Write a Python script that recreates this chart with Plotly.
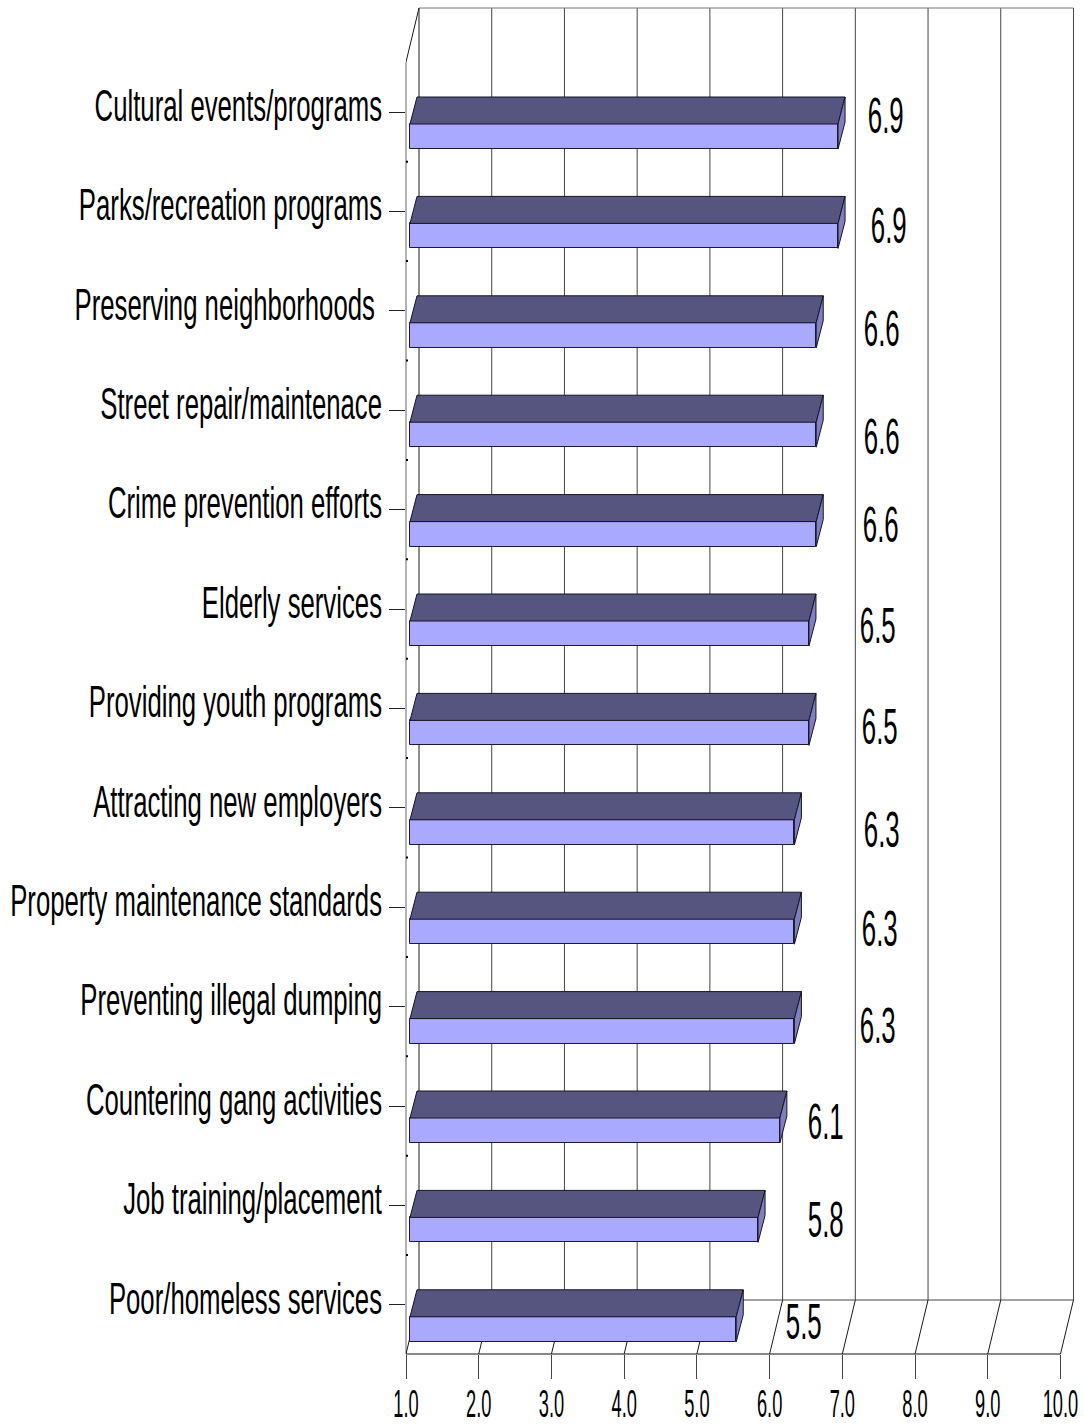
import plotly.graph_objects as go

# Survey items, top to bottom, with their mean ratings
categories = [
    "Cultural events/programs",
    "Parks/recreation programs",
    "Preserving neighborhoods\u00a0",
    "Street repair/maintenace",
    "Crime prevention efforts",
    "Elderly services",
    "Providing youth programs",
    "Attracting new employers",
    "Property maintenance standards",
    "Preventing illegal dumping",
    "Countering gang activities",
    "Job training/placement",
    "Poor/homeless services",
]
ratings = [6.9, 6.9, 6.6, 6.6, 6.6, 6.5, 6.5, 6.3, 6.3, 6.3, 6.1, 5.8, 5.5]
x_ticks = [1, 2, 3, 4, 5, 6, 7, 8, 9, 10]
x_tick_labels = ["1.0", "2.0", "3.0", "4.0", "5.0", "6.0", "7.0", "8.0", "9.0", "10.0"]

# Hand-placed value labels: pixel shifts from each bar's end
label_shifts = [
    (51, 4), (54, 15), (69, 18), (69, 27), (68, 15), (72, 17), (74, 19),
    (91, 22), (89, 22), (87, 19), (49, 16), (71, 15), (71, 17),
]

WIDTH, HEIGHT = 1084, 1427
LEFT, BOTTOM_PX = 406, 1354
PX_PER_UNIT = 72.72
PX_PER_BAND = 99.4
FIRST_BAND_PX = 112
WALL_DX, WALL_DY = 13 / PX_PER_UNIT, 54 / PX_PER_BAND
FACE_DX = 3 / PX_PER_UNIT          # bars sit slightly in front of the left wall
START_DX = 4 / PX_PER_UNIT
BAR_DX, BAR_DY = 7 / PX_PER_UNIT, 27 / PX_PER_BAND
FRONT_TOP, FRONT_HEIGHT = 12 / PX_PER_BAND, 25 / PX_PER_BAND

x_max = 1 + (WIDTH - LEFT) / PX_PER_UNIT
y_top = -FIRST_BAND_PX / PX_PER_BAND
y_bottom = (BOTTOM_PX - FIRST_BAND_PX) / PX_PER_BAND
back_floor = y_bottom - WALL_DY
back_top = y_top + 8 / PX_PER_BAND
wall_top_front = back_top + WALL_DY

GRID = "#444444"
DARK = "#1a1a1a"

shapes = []


def line(x0, y0, x1, y1, color=GRID, xref="x", yref="y", width=1):
    shapes.append(dict(type="line", layer="below", xref=xref, yref=yref,
                       x0=x0, y0=y0, x1=x1, y1=y1,
                       line=dict(color=color, width=width)))


# Back wall: vertical gridlines plus top and bottom edges
for t in x_ticks:
    line(t + WALL_DX, back_top, t + WALL_DX, back_floor, DARK if t == 1 else GRID)
line(1 + WALL_DX, back_top, 10 + WALL_DX, back_top, "#777777")
line(1 + WALL_DX, back_floor, 10 + WALL_DX, back_floor)

# Left wall, drawn against the plot edge so it isn't clipped in half
line(0, wall_top_front, 0, y_bottom, "#666666", xref="paper")
shapes.append(dict(type="line", layer="below", xref="x", yref="y",
                   x0=1, y0=wall_top_front, x1=1 + WALL_DX, y1=back_top,
                   line=dict(color=DARK, width=1)))

# Floor: front edge and slanted lines running back from each tick
line(1, 0, 10, 0, "#111111", yref="paper")
for t in x_ticks:
    line(t, y_bottom, t + WALL_DX, back_floor, DARK)

# Front faces of the bars
front = go.Bar(
    y=list(range(len(categories))),
    x=[v + FACE_DX - (1 + START_DX) for v in ratings],
    base=1 + START_DX,
    orientation="h",
    width=FRONT_HEIGHT,
    offset=FRONT_TOP,
    marker=dict(color="#A9A9FF", line=dict(color="#1a1a33", width=1)),
    hoverinfo="skip",
)

# Top and end faces, as closed polygons built from each rating
top_x, top_y, end_x, end_y = [], [], [], []
for i, v in enumerate(ratings):
    left = 1 + START_DX
    right = v + FACE_DX
    y0 = i + FRONT_TOP
    y1 = y0 + FRONT_HEIGHT
    top_x += [left, left + BAR_DX, right + BAR_DX, right, left, None]
    top_y += [y0, y0 - BAR_DY, y0 - BAR_DY, y0, y0, None]
    end_x += [right, right + BAR_DX, right + BAR_DX, right, right, None]
    end_y += [y0, y0 - BAR_DY, y1 - BAR_DY, y1, y0, None]

top_faces = go.Scatter(x=top_x, y=top_y, mode="lines", fill="toself",
                       fillcolor="#55557F", line=dict(color="#14142a", width=1),
                       hoverinfo="skip")
end_faces = go.Scatter(x=end_x, y=end_y, mode="lines", fill="toself",
                       fillcolor="#7F7FC0", line=dict(color="#14142a", width=1),
                       hoverinfo="skip")

# Small marks on the left wall between the bands
band_x, band_y = [], []
for i in range(len(categories) - 1):
    band_x += [1, 1 + 2 / PX_PER_UNIT, None]
    band_y += [i + 0.5, i + 0.5, None]
band_marks = go.Scatter(x=band_x, y=band_y, mode="lines",
                        line=dict(color="#000000", width=2), hoverinfo="skip")

annotations = [
    dict(x=v, y=i, xref="x", yref="y", text=f"{v:.1f}", showarrow=False,
         xshift=sx, yshift=-sy, font=dict(size=50, color="#000000"))
    for i, (v, (sx, sy)) in enumerate(zip(ratings, label_shifts))
]

fig = go.Figure([front, top_faces, end_faces, band_marks])
fig.update_layout(
    width=WIDTH,
    height=HEIGHT,
    margin=dict(l=LEFT, r=0, t=0, b=HEIGHT - BOTTOM_PX, pad=0, autoexpand=False),
    paper_bgcolor="white",
    plot_bgcolor="white",
    showlegend=False,
    font=dict(family="Liberation Sans", color="#000000"),
    shapes=shapes,
    annotations=annotations,
    bargap=0,
)
fig.update_xaxes(
    range=[1, x_max],
    tickmode="array",
    tickvals=x_ticks,
    ticktext=x_tick_labels,
    ticks="outside",
    ticklen=24,
    tickcolor="#444444",
    tickwidth=1,
    tickfont=dict(size=38),
    ticklabelstandoff=-8,
    ticklabeloverflow="allow",
    showgrid=False,
    zeroline=False,
    showline=False,
)
fig.update_yaxes(
    range=[y_bottom, y_top],
    tickmode="array",
    tickvals=list(range(len(categories))),
    ticktext=categories,
    ticks="outside",
    ticklen=16,
    tickcolor="#222222",
    tickwidth=1,
    tickfont=dict(size=45),
    ticklabelstandoff=-2,
    ticklabelshift=7,
    showgrid=False,
    zeroline=False,
    showline=False,
)

# Narrow the typeface horizontally, keeping each label's anchor point fixed
condense = """
function narrow(sel, s) {
  document.querySelectorAll(sel).forEach(function (t) {
    var x = parseFloat(t.getAttribute('x')) || 0;
    var old = t.getAttribute('transform') || '';
    t.setAttribute('transform',
      old + ' translate(' + x + ' 0) scale(' + s + ' 1) translate(' + (-x) + ' 0)');
  });
}
narrow('.ytick text', 0.572);
narrow('.xtick text', 0.48);
narrow('.annotation-text', 0.517);
"""

fig.write_html("out.html", post_script=condense)
